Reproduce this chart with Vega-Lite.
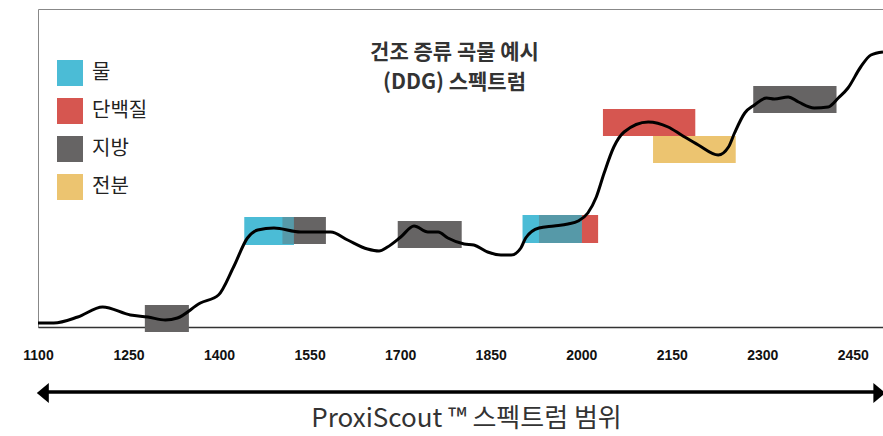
{
  "$schema": "https://vega.github.io/schema/vega-lite/v6.json",
  "width": 845,
  "height": 318,
  "autosize": {"type": "none"},
  "padding": {"left": 38, "top": 9, "right": 0, "bottom": 109},
  "background": "white",
  "config": {
    "view": {"stroke": "#888888", "strokeWidth": 1},
    "font": "Noto Sans CJK KR"
  },
  "title": {
    "text": ["건조 증류 곡물 예시", "(DDG) 스펙트럼"],
    "anchor": "middle",
    "frame": "group",
    "orient": "top",
    "baseline": "top",
    "offset": -84,
    "dx": -6,
    "fontSize": 21,
    "fontWeight": "bold",
    "font": "Noto Sans CJK KR",
    "color": "#333333",
    "lineHeight": 30
  },
  "datasets": {
    "curve": [
      {"wl": 1100, "v": 4}, {"wl": 1126, "v": 4}, {"wl": 1166, "v": 10}, {"wl": 1207, "v": 20},
      {"wl": 1253, "v": 12}, {"wl": 1282, "v": 10}, {"wl": 1311, "v": 7}, {"wl": 1331, "v": 9},
      {"wl": 1369, "v": 24}, {"wl": 1399, "v": 32}, {"wl": 1424, "v": 60}, {"wl": 1447, "v": 89},
      {"wl": 1464, "v": 97}, {"wl": 1491, "v": 99}, {"wl": 1535, "v": 95}, {"wl": 1585, "v": 95},
      {"wl": 1613, "v": 87}, {"wl": 1646, "v": 78}, {"wl": 1665, "v": 76}, {"wl": 1679, "v": 80},
      {"wl": 1701, "v": 90}, {"wl": 1723, "v": 101}, {"wl": 1746, "v": 95}, {"wl": 1763, "v": 95},
      {"wl": 1779, "v": 89}, {"wl": 1806, "v": 83}, {"wl": 1822, "v": 82}, {"wl": 1845, "v": 75},
      {"wl": 1867, "v": 72}, {"wl": 1884, "v": 72}, {"wl": 1900, "v": 79}, {"wl": 1908, "v": 89},
      {"wl": 1930, "v": 99}, {"wl": 1955, "v": 101}, {"wl": 1978, "v": 103}, {"wl": 1995, "v": 106},
      {"wl": 2011, "v": 114}, {"wl": 2025, "v": 130}, {"wl": 2038, "v": 154}, {"wl": 2054, "v": 180},
      {"wl": 2071, "v": 195}, {"wl": 2111, "v": 205}, {"wl": 2144, "v": 200}, {"wl": 2166, "v": 192},
      {"wl": 2194, "v": 182}, {"wl": 2227, "v": 172}, {"wl": 2244, "v": 180}, {"wl": 2254, "v": 194},
      {"wl": 2271, "v": 214}, {"wl": 2287, "v": 222}, {"wl": 2307, "v": 229}, {"wl": 2320, "v": 228},
      {"wl": 2343, "v": 230}, {"wl": 2360, "v": 225}, {"wl": 2386, "v": 219}, {"wl": 2409, "v": 220},
      {"wl": 2426, "v": 229}, {"wl": 2442, "v": 239}, {"wl": 2463, "v": 260}, {"wl": 2480, "v": 272},
      {"wl": 2500, "v": 275}
    ],
    "bands": [
      {"comp": "물", "start": 1442, "end": 1524, "lo": 82, "hi": 110},
      {"comp": "물", "start": 1903, "end": 2001, "lo": 84, "hi": 112},
      {"comp": "지방", "start": 1277, "end": 1350, "lo": -5, "hi": 22},
      {"comp": "지방", "start": 1505, "end": 1577, "lo": 83, "hi": 110},
      {"comp": "지방", "start": 1696, "end": 1802, "lo": 79, "hi": 106},
      {"comp": "지방", "start": 1930, "end": 2001, "lo": 84, "hi": 112},
      {"comp": "지방", "start": 2285, "end": 2423, "lo": 214, "hi": 241},
      {"comp": "단백질", "start": 2001, "end": 2028, "lo": 84, "hi": 112},
      {"comp": "단백질", "start": 2036, "end": 2189, "lo": 191, "hi": 218},
      {"comp": "전분", "start": 2119, "end": 2256, "lo": 164, "hi": 191}
    ]
  },
  "layer": [
    {
      "data": {"name": "bands"},
      "mark": {"type": "rect", "opacity": 1},
      "encoding": {
        "x": {
          "field": "start", "type": "quantitative",
          "scale": {"domain": [1100, 2500], "nice": false, "zero": false},
          "axis": {
            "values": [1100, 1250, 1400, 1550, 1700, 1850, 2000, 2150, 2300, 2450],
            "format": "d",
            "domain": true, "domainColor": "#333333", "domainWidth": 1.5,
            "ticks": false, "grid": false,
            "labelFont": "Liberation Sans", "labelFontSize": 14, "labelFontWeight": "bold",
            "labelColor": "#111111", "labelPadding": 21, "labelFlush": false, "labelBound": false,
            "labelOverlap": false, "labelBaseline": "top",
            "title": "ProxiScout ™ 스펙트럼 범위",
            "titleFont": "Noto Sans CJK KR", "titleFontSize": 26, "titleFontWeight": "normal",
            "titleColor": "#333333", "titleX": 428, "titleY": 78, "titleBaseline": "top",
            "titleAnchor": "start", "titleAlign": "center"
          }
        },
        "x2": {"field": "end"},
        "y": {
          "field": "lo", "type": "quantitative",
          "scale": {"domain": [0, 318], "nice": false, "zero": false},
          "axis": null
        },
        "y2": {"field": "hi"},
        "color": {
          "field": "comp", "type": "nominal",
          "scale": {"domain": ["물", "단백질", "지방", "전분"], "range": ["#4bbcd6", "#d65650", "#666464", "#ecc470"]},
          "legend": {
            "orient": "none", "legendX": 19, "legendY": 51, "title": null,
            "symbolType": "square", "symbolSize": 676, "symbolStrokeWidth": 0, "symbolOpacity": 1,
            "labelFont": "Noto Sans CJK KR", "labelFontSize": 20, "labelColor": "#222222",
            "labelOffset": 9, "rowPadding": 12
          }
        }
      }
    },
    {
      "data": {"name": "bands"},
      "transform": [{"filter": "datum.comp === '물'"}],
      "mark": {"type": "rect", "opacity": 0.6, "color": "#4bbcd6"},
      "encoding": {
        "x": {"field": "start", "type": "quantitative"},
        "x2": {"field": "end"},
        "y": {"field": "lo", "type": "quantitative"},
        "y2": {"field": "hi"}
      }
    },
    {
      "data": {"name": "curve"},
      "mark": {"type": "line", "color": "#000000", "strokeWidth": 3, "interpolate": "monotone"},
      "encoding": {
        "x": {"field": "wl", "type": "quantitative"},
        "y": {"field": "v", "type": "quantitative"}
      }
    },
    {
      "data": {"values": [{}]},
      "mark": {"type": "rule", "color": "#000000", "strokeWidth": 3.3},
      "encoding": {
        "x": {"datum": 1115},
        "x2": {"datum": 2490},
        "y": {"datum": -65}
      }
    },
    {
      "data": {"values": [{}]},
      "mark": {"type": "point", "filled": true, "color": "#000000", "opacity": 1, "size": 400, "shape": "M -0.6 0 L 0.6 -1 L 0.6 1 Z"},
      "encoding": {
        "x": {"datum": 1108},
        "y": {"datum": -66}
      }
    },
    {
      "data": {"values": [{}]},
      "mark": {"type": "point", "filled": true, "color": "#000000", "opacity": 1, "size": 400, "shape": "M 0.6 0 L -0.6 -1 L -0.6 1 Z"},
      "encoding": {
        "x": {"datum": 2494},
        "y": {"datum": -66}
      }
    }
  ]
}
